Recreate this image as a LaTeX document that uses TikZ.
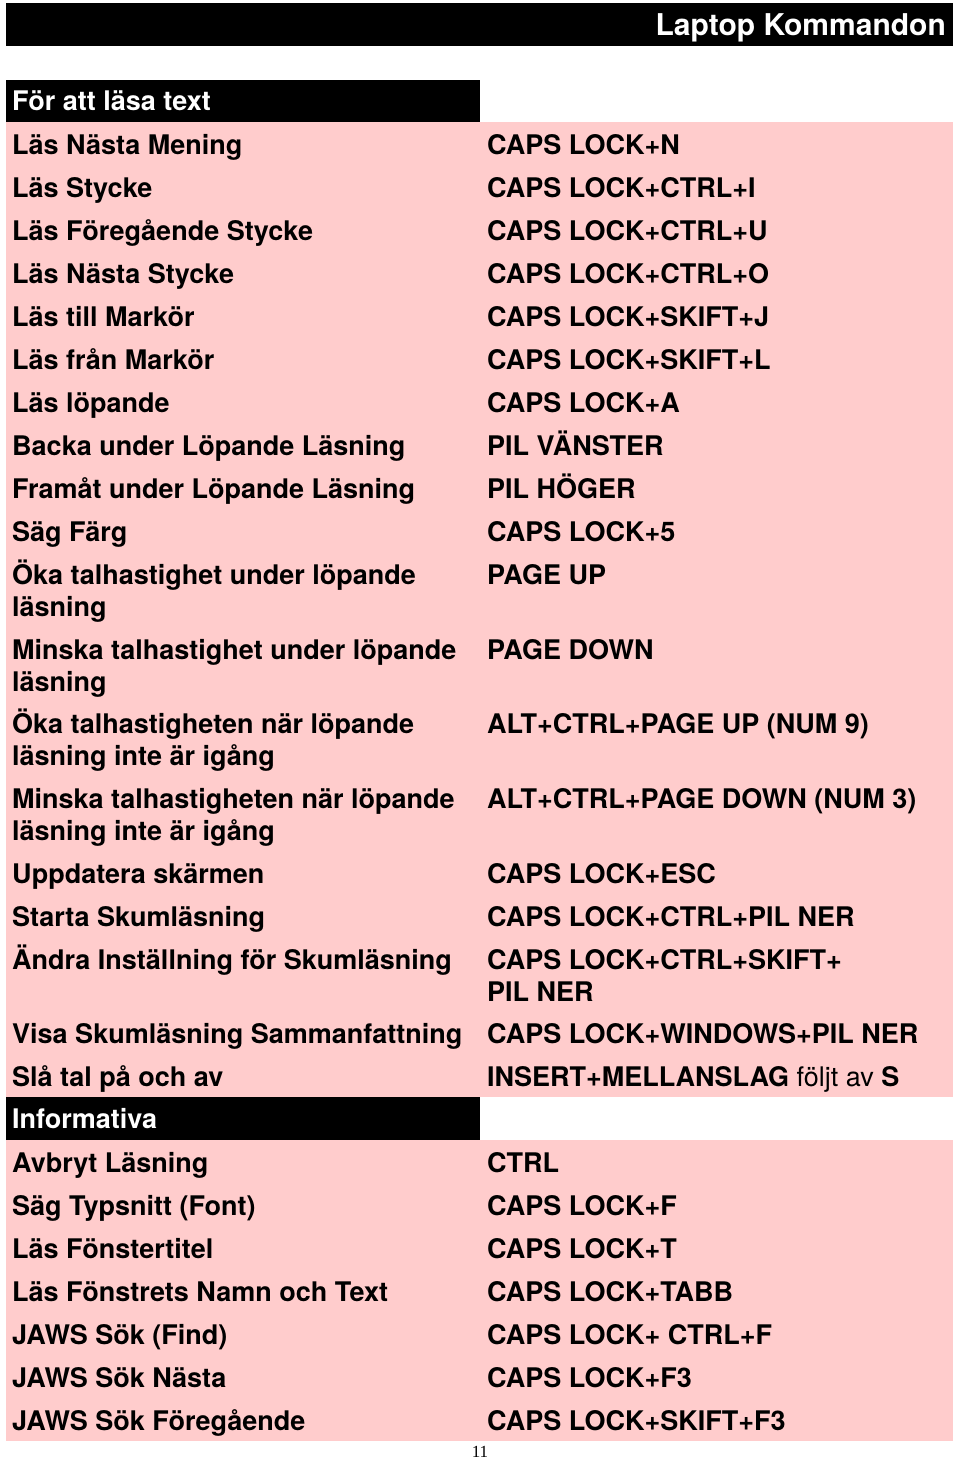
\documentclass[tikz,border=0pt]{standalone}
\usepackage{fontspec}
\setmainfont{TeX Gyre Heros}
\newfontfamily\pgnum{Liberation Serif}
\definecolor{rowpink}{HTML}{FFCCCC}
\begin{document}
\begin{tikzpicture}[x=1pt,y=-1pt,
  lbl/.style={anchor=base west,inner sep=0pt,font=\fontsize{27}{30}\selectfont\bfseries},
  hdr/.style={lbl,text=white}]
\useasboundingbox (0,0) rectangle (960,1461);
\fill[white] (0,0) rectangle (960,1461);
\fill[black] (6,3) rectangle (953,46);
\node[anchor=base east,inner sep=0pt,text=white,font=\fontsize{30}{32}\selectfont\bfseries] (title) at (946,36) {Laptop Kommandon};
\fill[black] (6,80) rectangle (480,122);
\fill[rowpink] (6,122) rectangle (953,1097);
\fill[black] (6,1097) rectangle (480,1140);
\fill[rowpink] (6,1140) rectangle (953,1441);
\node[hdr] (h1) at (12,111) {För att läsa text};
\node[hdr] (h2) at (12,1128) {Informativa};
\foreach \y/\a/\b [count=\i] in {
 154/Läs Nästa Mening/CAPS LOCK+N,
 197/Läs Stycke/CAPS LOCK+CTRL+I,
 240/Läs Föregående Stycke/CAPS LOCK+CTRL+U,
 283/Läs Nästa Stycke/CAPS LOCK+CTRL+O,
 326/Läs till Markör/CAPS LOCK+SKIFT+J,
 369/Läs från Markör/CAPS LOCK+SKIFT+L,
 412/Läs löpande/CAPS LOCK+A,
 455/Backa under Löpande Läsning/PIL VÄNSTER,
 498/Framåt under Löpande Läsning/PIL HÖGER,
 541/Säg Färg/CAPS LOCK+5,
 584/Öka talhastighet under löpande/PAGE UP,
 616/läsning/,
 659/Minska talhastighet under löpande/PAGE DOWN,
 691/läsning/,
 733/Öka talhastigheten när löpande/ALT+CTRL+PAGE UP (NUM 9),
 765/läsning inte är igång/,
 808/Minska talhastigheten när löpande/ALT+CTRL+PAGE DOWN (NUM 3),
 840/läsning inte är igång/,
 883/Uppdatera skärmen/CAPS LOCK+ESC,
 926/Starta Skumläsning/CAPS LOCK+CTRL+PIL NER,
 969/Ändra Inställning för Skumläsning/CAPS LOCK+CTRL+SKIFT+,
 1001//PIL NER,
 1043/Visa Skumläsning Sammanfattning/CAPS LOCK+WINDOWS+PIL NER,
 1172/Avbryt Läsning/CTRL,
 1215/Säg Typsnitt (Font)/CAPS LOCK+F,
 1258/Läs Fönstertitel/CAPS LOCK+T,
 1301/Läs Fönstrets Namn och Text/CAPS LOCK+TABB,
 1344/JAWS Sök (Find)/CAPS LOCK+ CTRL+F,
 1387/JAWS Sök Nästa/CAPS LOCK+F3,
 1430/JAWS Sök Föregående/CAPS LOCK+SKIFT+F3}
 {\node[lbl] (a\i) at (12,\y) {\a}; \node[lbl] (b\i) at (487,\y) {\b};}
\node[lbl] (sa) at (12,1086) {Slå tal på och av};
\node[lbl] (sb) at (487,1086) {INSERT+MELLANSLAG {\mdseries följt av} S};
\node[anchor=base,inner sep=0pt,font=\pgnum\fontsize{17}{18}\selectfont] (pg) at (480,1457) {11};
\end{tikzpicture}
\end{document}
